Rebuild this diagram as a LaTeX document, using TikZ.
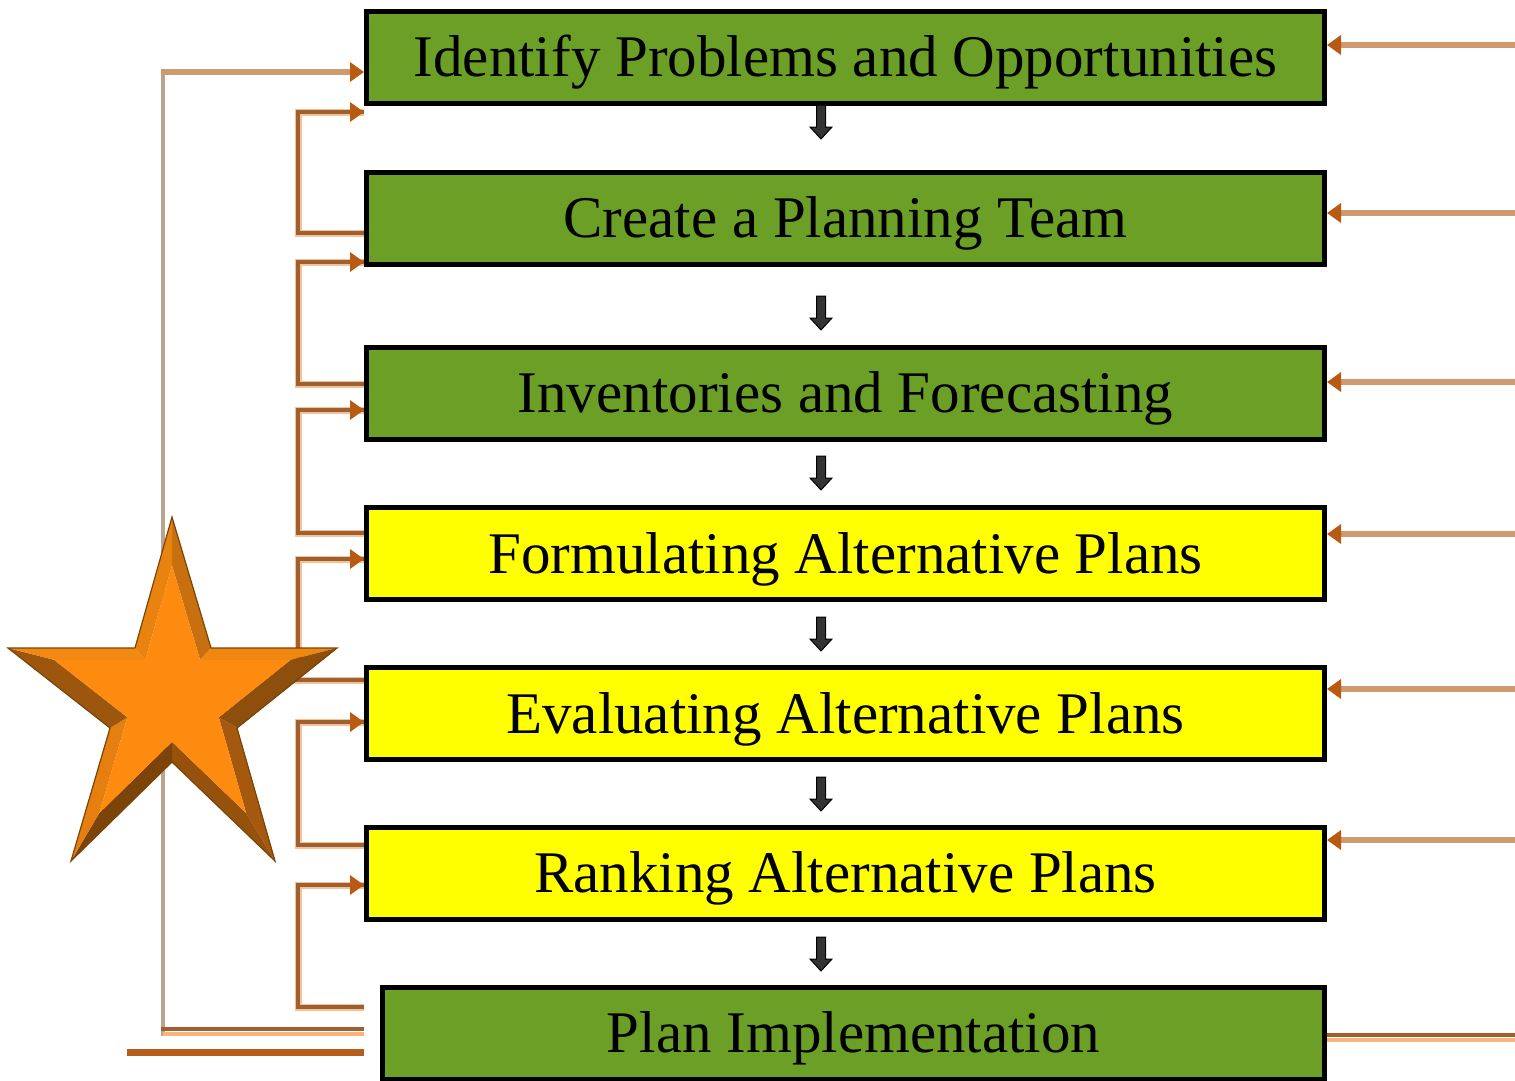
\documentclass[tikz,border=0pt]{standalone}
\usepackage{fontspec}
\setmainfont{Liberation Serif}
\usetikzlibrary{arrows.meta,calc}
\definecolor{boxgreen}{HTML}{6B9F25}
\definecolor{boxyellow}{HTML}{FFFF00}
\definecolor{linetan}{HTML}{CF9A6E}
\definecolor{linelight}{HTML}{F3C19A}
\definecolor{linedark}{HTML}{A0602E}
\definecolor{linegray}{HTML}{BBA391}
\definecolor{lbright}{HTML}{F7B47C}
\definecolor{tipcol}{HTML}{B85A12}
\definecolor{barcol}{HTML}{B55E1A}
\definecolor{arrowgray}{HTML}{333333}
\definecolor{starface}{HTML}{FD8B10}
\definecolor{staredge}{HTML}{7A4409}
\begin{document}
\begin{tikzpicture}[x=1pt,y=-1pt,
  stepbox/.style={draw=black, line width=5pt, minimum width=958pt, minimum height=92pt,
    inner sep=0pt, font=\fontsize{59}{65}\selectfont, text=black,
    text height=39pt, text depth=0pt},
  greenbox/.style={stepbox, fill=boxgreen},
  yellowbox/.style={stepbox, fill=boxyellow},
  tipped/.style={-{Triangle[length=14pt,width=19pt,color=tipcol]}},
  inarrow/.style={tipped, draw=linetan, line width=6pt},
  loopwide/.style={draw=linelight, line width=7pt},
  loopcore/.style={draw=linedark, line width=3.5pt},
  downarr/.pic={\draw[fill=arrowgray, draw=black, line width=1pt]
     (-4.5,-17) -- (4.5,-17) -- (4.5,5) -- (11,5) -- (0,17) -- (-11,5) -- (-4.5,5) -- cycle;}
 ]
\useasboundingbox (0,0) rectangle (1515,1081);
\fill[white] (0,0) rectangle (1515,1081);

% ---- boxes ----
\node[greenbox]  (b1) at (845.5,57.5)  {Identify Problems and Opportunities};
\node[greenbox]  (b2) at (845.5,218)   {Create a Planning Team};
\node[greenbox]  (b3) at (845.5,393)   {Inventories and Forecasting};
\node[yellowbox] (b4) at (845.5,553.5) {Formulating Alternative Plans};
\node[yellowbox] (b5) at (845.5,713.5) {Evaluating Alternative Plans};
\node[yellowbox] (b6) at (845.5,873)   {Ranking Alternative Plans};
\node[greenbox, minimum width=942pt] (b7) at (853.5,1033) {Plan Implementation};

% ---- down arrows ----
\pic at (821,122) {downarr};
\foreach \y in {313,473,634,794,954} { \pic at (821,\y) {downarr}; }

% ---- right inputs ----
\foreach \y in {45,213,382,534,689,840} {
  \coordinate (r) at (1515,\y);
  \draw[inarrow] (r) -- (r -| b1.east);
}
\coordinate (rba) at (1515,1035);
\coordinate (rbb) at (1515,1039.5);
\draw[line width=4pt, draw=lbright] (b7.east |- rbb) -- (rbb);
\draw[line width=3.5pt, draw=linedark] (b7.east |- rba) -- (rba);

% ---- feedback loops (left) ----
\foreach \s/\t in {233/112,384/262,533/410,680/559,845/722,1007/885} {
  \coordinate (p) at (298,\s);
  \coordinate (q) at (298,\t);
  \draw[loopwide] (p -| b1.west) -- (p) -- (q) -- (q -| b1.west);
  \draw[loopcore] (p -| b1.west) -- (p) -- (q) -- (q -| b1.west);
  \draw[tipped, draw=linedark, line width=3.5pt] ($(q -| b1.west)+(-16,0)$) -- (q -| b1.west);
}

% ---- outer loop ----
\coordinate (oa) at (163,1029);
\coordinate (ob) at (163,1034);
\coordinate (ot) at (163,72);
\draw[line width=4pt, draw=linegray] (163,1036) -- (163,70);
\draw[line width=4pt, draw=lbright] (ob -| b1.west) -- (ob);
\draw[line width=4pt, draw=linedark] (oa -| b1.west) -- (161,1029);
\draw[inarrow] (161,72) -- (ot -| b1.west);

% ---- bottom bar ----
\coordinate (bl) at (127,1052);
\draw[line width=7pt, draw=barcol] (bl) -- (bl -| b1.west);

% ---- star ----
\coordinate (sc) at (172,690);
\coordinate (P0) at (172,517);
\coordinate (P1) at (211,648);
\coordinate (P2) at (337,648);
\coordinate (P3) at (237,728);
\coordinate (P4) at (275,861);
\coordinate (P5) at (172,762);
\coordinate (P6) at (71,861);
\coordinate (P7) at (110,728);
\coordinate (P8) at (8,648);
\coordinate (P9) at (135,648);
\foreach \i in {0,...,9} { \coordinate (W\i) at ($(sc)!0.72!(P\i)$); }
\fill[fill={rgb,255:red,200;green,112;blue,15}] (P0) -- (P1) -- (W1) -- (W0) -- cycle;
\fill[fill={rgb,255:red,240;green,135;blue,15}] (P1) -- (P2) -- (W2) -- (W1) -- cycle;
\fill[fill={rgb,255:red,143;green,79;blue,12}]  (P2) -- (P3) -- (W3) -- (W2) -- cycle;
\fill[fill={rgb,255:red,164;green,89;blue,14}]  (P3) -- (P4) -- (W4) -- (W3) -- cycle;
\fill[fill={rgb,255:red,150;green,82;blue,13}]  (P4) -- (P5) -- (W5) -- (W4) -- cycle;
\fill[fill={rgb,255:red,124;green,68;blue,9}]   (P5) -- (P6) -- (W6) -- (W5) -- cycle;
\fill[fill={rgb,255:red,229;green,127;blue,16}] (P6) -- (P7) -- (W7) -- (W6) -- cycle;
\fill[fill={rgb,255:red,156;green,86;blue,14}]  (P7) -- (P8) -- (W8) -- (W7) -- cycle;
\fill[fill={rgb,255:red,242;green,138;blue,18}] (P8) -- (P9) -- (W9) -- (W8) -- cycle;
\fill[fill={rgb,255:red,233;green,131;blue,15}] (P9) -- (P0) -- (W0) -- (W9) -- cycle;
\fill[starface] (W0) -- (W1) -- (W2) -- (W3) -- (W4) -- (W5) -- (W6) -- (W7) -- (W8) -- (W9) -- cycle;
\draw[staredge, line width=1.2pt, line join=miter] (P0) -- (P1) -- (P2) -- (P3) -- (P4) -- (P5) -- (P6) -- (P7) -- (P8) -- (P9) -- cycle;
\end{tikzpicture}
\end{document}
